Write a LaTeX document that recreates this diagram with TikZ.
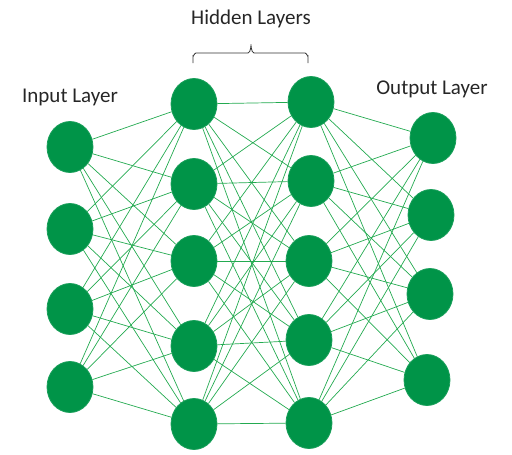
\documentclass[tikz,border=0pt]{standalone}
\usepackage{fontspec}
\setmainfont{Carlito}
\usetikzlibrary{shapes.geometric}
\definecolor{neuron}{RGB}{0,148,72}
\definecolor{synapse}{RGB}{35,170,80}
\tikzset{
  neuronnode/.style={ellipse,fill=neuron,draw=neuron!90!white,line width=0.8pt,minimum width=46pt,minimum height=51pt,inner sep=0pt},
  synapseline/.style={synapse,line width=0.7pt},
  layerlabel/.style={font=\fontsize{21}{24}\selectfont,text=black!85}
}
\begin{document}
\begin{tikzpicture}[x=1pt,y=-1pt]
    \useasboundingbox (0,0) rectangle (512,455);

    % input layer
    \foreach \i/\x/\y in {1/70/147, 2/70/229, 3/70/309, 4/70/387}
        \node[neuronnode] (in\i) at (\x,\y) {};

    % hidden layers
    \foreach \i/\x/\y in {1/194/104, 2/194/184, 3/194/261, 4/194/346, 5/194/424}
        \node[neuronnode] (ha\i) at (\x,\y) {};
    \foreach \i/\x/\y in {1/311/102, 2/311/181, 3/309/261, 4/309/340, 5/309/423}
        \node[neuronnode] (hb\i) at (\x,\y) {};

    % output layer
    \foreach \i/\x/\y in {1/433/138, 2/431/215, 3/430/294, 4/427/380}
        \node[neuronnode] (out\i) at (\x,\y) {};

    % connections
    \foreach \i in {1,...,4}
        \foreach \j in {1,...,5}
            \draw[synapseline] (in\i) -- (ha\j);
    \foreach \i in {1,...,5}
        \foreach \j in {1,...,5}
            \draw[synapseline] (ha\i) -- (hb\j);
    \foreach \i in {1,...,5}
        \foreach \j in {1,...,4}
            \draw[synapseline] (hb\i) -- (out\j);

    % labels
    \node[layerlabel] (inlabel) at (70,97) {Input Layer};
    \node[layerlabel] (hidlabel) at (251,19) {Hidden Layers};
    \node[layerlabel] (outlabel) at (432,89) {Output Layer};

    % brace
    \coordinate (bl) at (193,63);
    \coordinate (br) at (308,63);
    \draw[black!80,line width=0.8pt] (bl) -- ++(0,-7) to[out=-90,in=180] ++(3,-3) -- (248,53)
        to[out=0,in=90] (251,46) to[out=90,in=180] (254,53) -- (305,53) to[out=0,in=-90] ++(3,3) -- (br);
\end{tikzpicture}
\end{document}
